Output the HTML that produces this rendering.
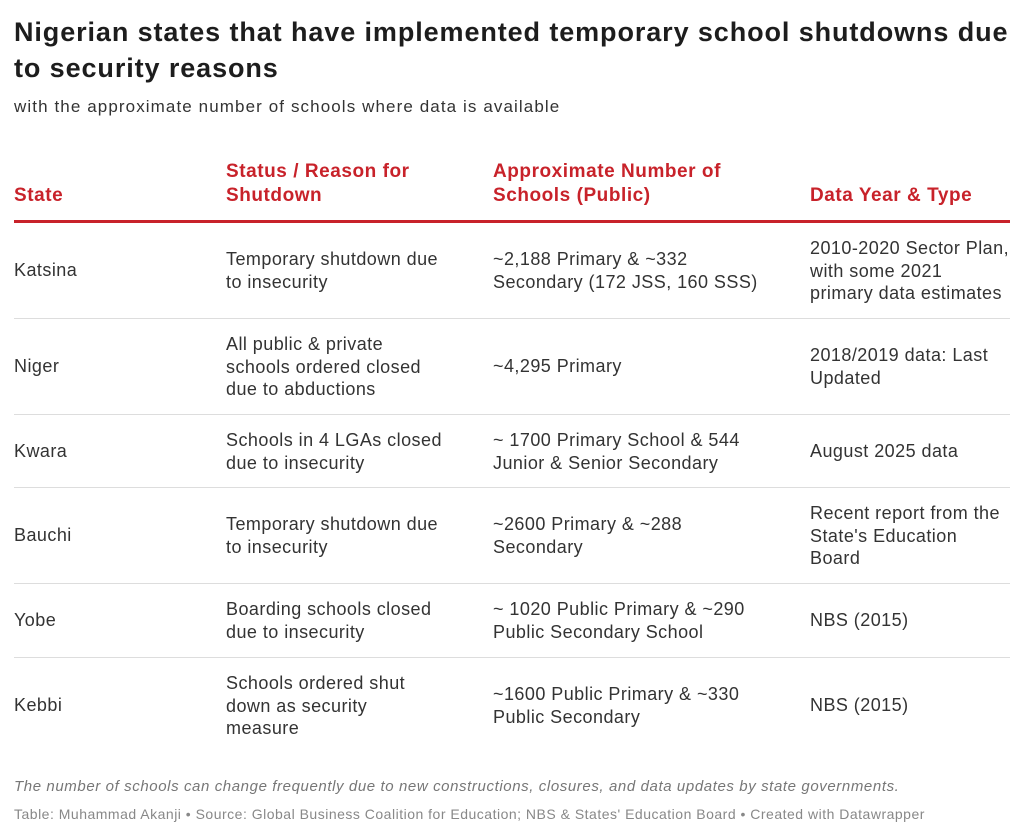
<!DOCTYPE html>
<html><head><meta charset="utf-8"><style>
body{margin:0;background:#fff;width:1024px;height:838px;overflow:hidden;font-family:"Liberation Sans",Arial,sans-serif;color:#333}
.t{position:absolute;left:14px;top:14px;width:1005px;font-size:27px;font-weight:bold;line-height:36px;color:#1d1d1d;letter-spacing:0.9px}
.s{position:absolute;left:14px;top:97px;font-size:17px;color:#333;letter-spacing:1.1px}
.c{position:absolute;font-size:18px;line-height:22.5px;color:#333;letter-spacing:0.45px;white-space:nowrap}
.h{position:absolute;font-size:19px;line-height:24px;font-weight:bold;color:#c8222a;letter-spacing:0.55px;white-space:nowrap}
.line{position:absolute;left:14px;width:996px;height:1px;background:#ddd}
.n{position:absolute;left:14px;top:778px;font-size:15px;font-style:italic;color:#777;letter-spacing:0.6px;white-space:nowrap}
.cr{position:absolute;left:14px;top:806px;font-size:14px;color:#888;letter-spacing:0.5px;white-space:nowrap}
</style></head><body>
<div class="t">Nigerian states that have implemented temporary school shutdowns due to security reasons</div>
<div class="s">with the approximate number of schools where data is available</div>
<div class="h" style="left:14px;top:184px">State</div>
<div class="h" style="left:226px;top:160px">Status / Reason for<br>Shutdown</div>
<div class="h" style="left:493px;top:160px">Approximate Number of<br>Schools (Public)</div>
<div class="h" style="left:810px;top:184px">Data Year &amp; Type</div>
<div class="line" style="top:220px;height:3px;background:#c8222a"></div>

<div class="c" style="left:14px;top:259px">Katsina</div>
<div class="c" style="left:226px;top:248px">Temporary shutdown due<br>to insecurity</div>
<div class="c" style="left:493px;top:248px">~2,188 Primary &amp; ~332<br>Secondary (172 JSS, 160 SSS)</div>
<div class="c" style="left:810px;top:237px">2010-2020 Sector Plan,<br>with some 2021<br>primary data estimates</div>
<div class="line" style="top:318px"></div>

<div class="c" style="left:14px;top:355px">Niger</div>
<div class="c" style="left:226px;top:333px">All public &amp; private<br>schools ordered closed<br>due to abductions</div>
<div class="c" style="left:493px;top:355px">~4,295 Primary</div>
<div class="c" style="left:810px;top:344px">2018/2019 data: Last<br>Updated</div>
<div class="line" style="top:414px"></div>

<div class="c" style="left:14px;top:440px">Kwara</div>
<div class="c" style="left:226px;top:429px">Schools in 4 LGAs closed<br>due to insecurity</div>
<div class="c" style="left:493px;top:429px">~ 1700 Primary School &amp; 544<br>Junior &amp; Senior Secondary</div>
<div class="c" style="left:810px;top:440px">August 2025 data</div>
<div class="line" style="top:487px"></div>

<div class="c" style="left:14px;top:524px">Bauchi</div>
<div class="c" style="left:226px;top:513px">Temporary shutdown due<br>to insecurity</div>
<div class="c" style="left:493px;top:513px">~2600 Primary &amp; ~288<br>Secondary</div>
<div class="c" style="left:810px;top:502px">Recent report from the<br>State's Education<br>Board</div>
<div class="line" style="top:583px"></div>

<div class="c" style="left:14px;top:609px">Yobe</div>
<div class="c" style="left:226px;top:598px">Boarding schools closed<br>due to insecurity</div>
<div class="c" style="left:493px;top:598px">~ 1020 Public Primary &amp; ~290<br>Public Secondary School</div>
<div class="c" style="left:810px;top:609px">NBS (2015)</div>
<div class="line" style="top:657px"></div>

<div class="c" style="left:14px;top:694px">Kebbi</div>
<div class="c" style="left:226px;top:672px">Schools ordered shut<br>down as security<br>measure</div>
<div class="c" style="left:493px;top:683px">~1600 Public Primary &amp; ~330<br>Public Secondary</div>
<div class="c" style="left:810px;top:694px">NBS (2015)</div>

<div class="n">The number of schools can change frequently due to new constructions, closures, and data updates by state governments.</div>
<div class="cr">Table: Muhammad Akanji • Source: Global Business Coalition for Education; NBS &amp; States' Education Board • Created with Datawrapper</div>
</body></html>
